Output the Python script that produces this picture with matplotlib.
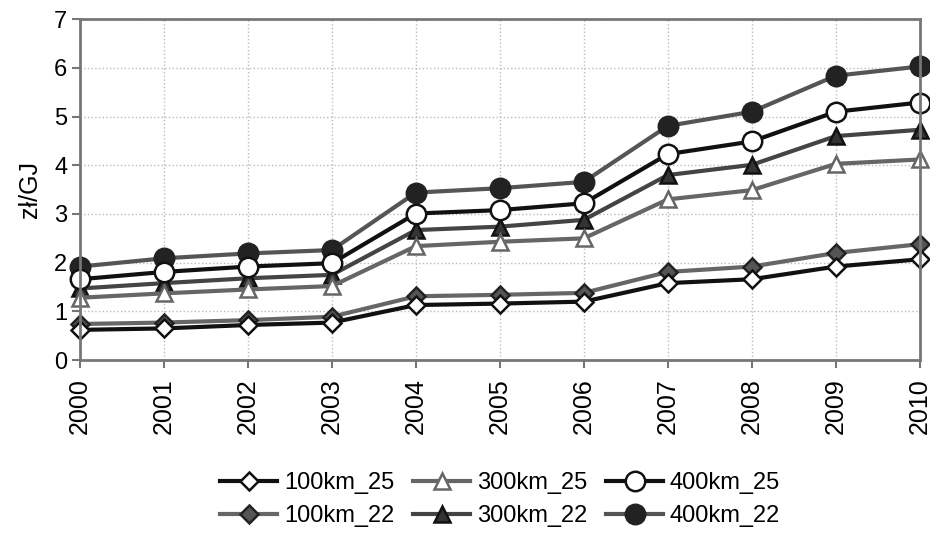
import numpy as np
import matplotlib
matplotlib.use('Agg')
import matplotlib.pyplot as plt

plt.rcParams['font.family'] = ['Liberation Sans', 'DejaVu Sans']

years = [2000, 2001, 2002, 2003, 2004, 2005, 2006, 2007, 2008, 2009, 2010]

km100_25 = [0.62, 0.65, 0.72, 0.77, 1.13, 1.16, 1.20, 1.58, 1.66, 1.92, 2.07]
km300_25 = [1.28, 1.37, 1.45, 1.52, 2.34, 2.43, 2.50, 3.30, 3.49, 4.03, 4.12]
km400_25 = [1.66, 1.81, 1.92, 1.99, 3.01, 3.08, 3.22, 4.23, 4.49, 5.10, 5.29]
km100_22 = [0.74, 0.77, 0.82, 0.89, 1.31, 1.34, 1.38, 1.81, 1.92, 2.20, 2.38]
km300_22 = [1.47, 1.58, 1.68, 1.75, 2.67, 2.74, 2.88, 3.80, 4.01, 4.60, 4.73]
km400_22 = [1.92, 2.09, 2.19, 2.26, 3.44, 3.53, 3.66, 4.81, 5.10, 5.84, 6.03]

labels = ['100km_25', '300km_25', '400km_25', '100km_22', '300km_22', '400km_22']

# (values, line colour, marker, face, edge, size)
styles = [
    (km100_25, '#111111', 'D', 'white', '#111111', 9),
    (km300_25, '#666666', '^', 'white', '#666666', 12),
    (km400_25, '#111111', 'o', 'white', '#111111', 14),
    (km100_22, '#666666', 'D', '#555555', '#222222', 9.5),
    (km300_22, '#444444', '^', '#333333', '#111111', 12),
    (km400_22, '#555555', 'o', '#222222', '#222222', 14),
]

fig = plt.figure(figsize=(9.3, 5.35), dpi=100)
ax = fig.add_axes([0.086, 0.327, 0.903, 0.637])

# draw the _22 ones first so the _25 ones sit on top where they overlap
order = [3, 4, 5, 0, 1, 2]
handles = {}
for i in order:
    vals, lc, mk, fc, ec, ms = styles[i]
    h, = ax.plot(years, vals, color=lc, linewidth=3.0, marker=mk, markersize=ms,
                 markerfacecolor=fc, markeredgecolor=ec, markeredgewidth=1.8,
                 label=labels[i])
    handles[i] = h

ax.set_xlim(2000, 2010)
ax.set_ylim(0, 7)
ax.set_xticks(years)
ax.set_xticklabels([str(y) for y in years], rotation=90, fontsize=18)
ax.set_yticks(range(8))
ax.tick_params(axis='y', labelsize=17, length=6, color='#777777', width=1.5, pad=3)
ax.tick_params(axis='x', length=6, color='#777777', width=1.5, pad=7)
for s in ax.spines.values():
    s.set_color('#777777')
    s.set_linewidth(2)
ax.grid(True, linestyle=':', color='#bbbbbb', linewidth=1)
ax.set_axisbelow(True)
for ln in ax.lines:
    ln.set_clip_on(False)
ax.set_ylabel('zł/GJ', fontsize=18, labelpad=9)

# legend fills column by column, so interleave to get the rows right
leg_order = [0, 3, 1, 4, 2, 5]
fig.legend([handles[i] for i in leg_order], [labels[i] for i in leg_order],
           ncol=3, loc='lower center', bbox_to_anchor=(0.538, -0.025),
           frameon=False, fontsize=17, handlelength=2.4, handletextpad=0.3,
           columnspacing=0.8, labelspacing=0.45)

fig.savefig('out.png', dpi=100)
